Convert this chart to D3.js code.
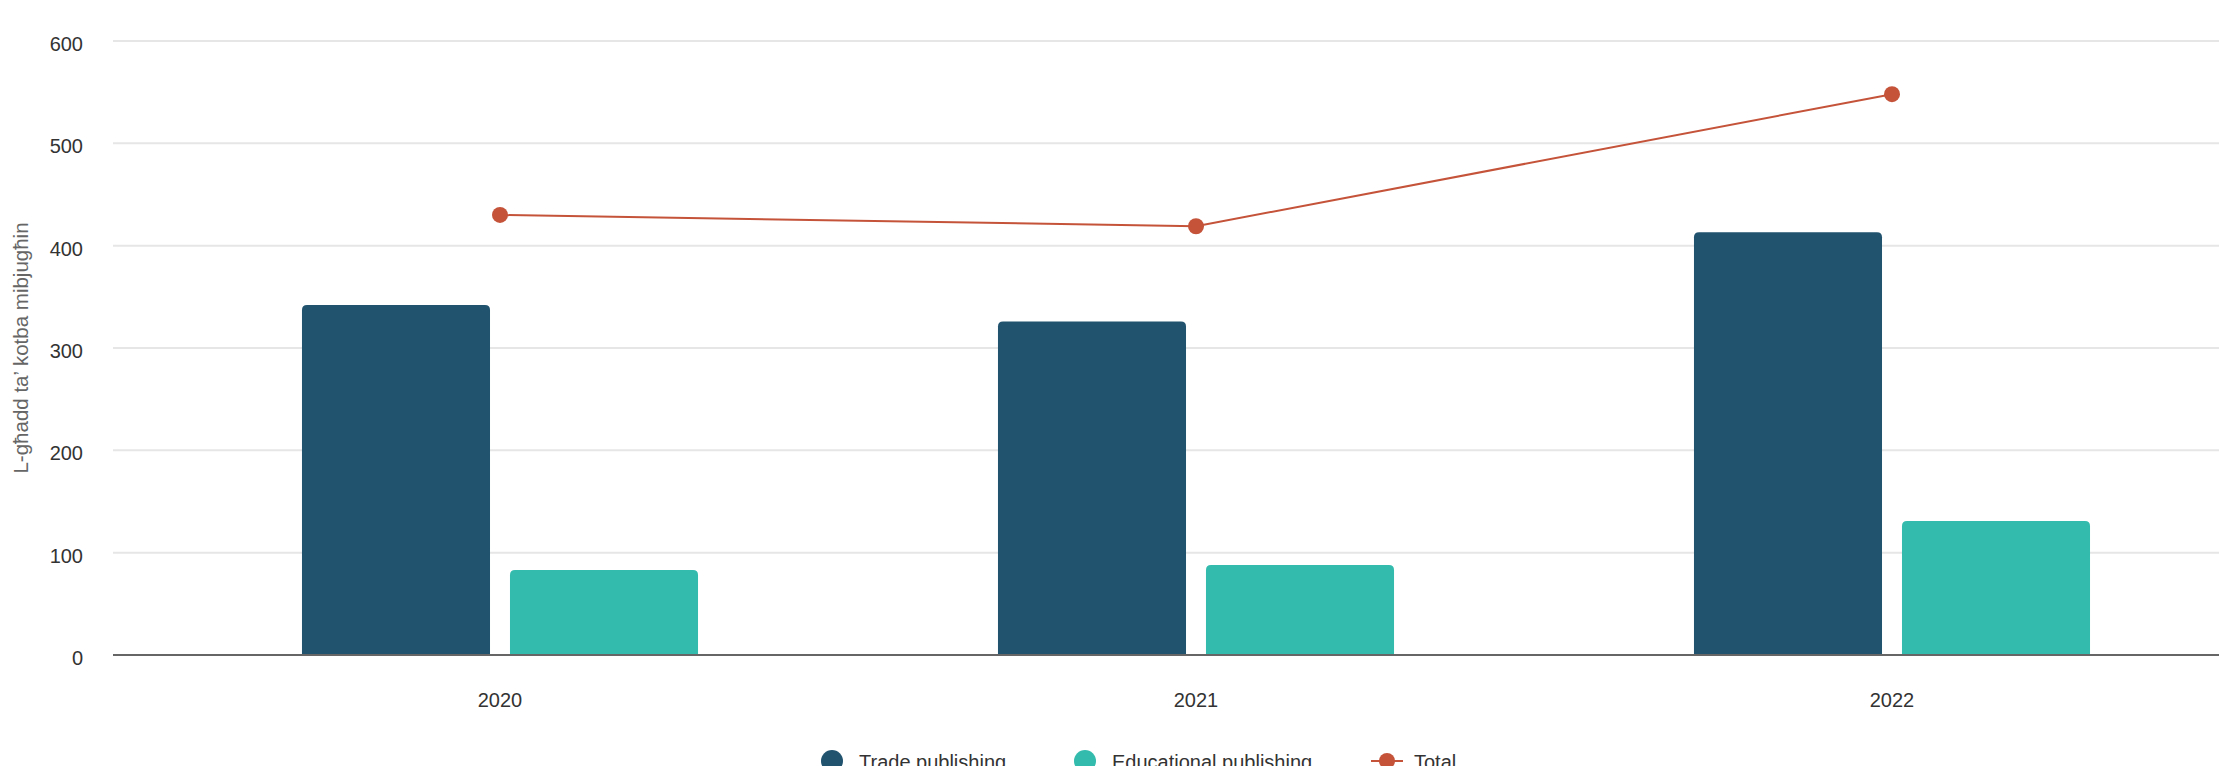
<!DOCTYPE html>
<html>
<head>
<meta charset="utf-8">
<script src="https://cdn.jsdelivr.net/npm/d3@7"></script>
<style>
  body { margin: 0; background: #fff; }
  text { font-family: "Liberation Sans", Arial, sans-serif; }
</style>
</head>
<body>
<div id="chart"></div>
<script>
// data
var years = ["2020", "2021", "2022"];
var seriesNames = ["Trade publishing", "Educational publishing"];
var trade = [342, 326, 413];
var educational = [83, 88, 131];
var total = [430, 419, 548];
var yTicks = [0, 100, 200, 300, 400, 500, 600];
var yTitle = "L-għadd ta’ kotba mibjugħin";
var colors = ["#21536f", "#33bbad"];
var totalColor = "#c4533a";

var width = 2219, height = 766;
var gridLeft = 113, plotRight = 2240, plotTop = 41, plotBottom = 655;

var svg = d3.select("#chart").append("svg")
    .attr("width", width).attr("height", height);

var x = d3.scaleBand().domain(years).range([152, plotRight]);
var x1 = d3.scaleBand().domain(seriesNames).range([0, x.bandwidth()])
    .paddingInner(0.096).paddingOuter(0.721);
var y = d3.scaleLinear().domain([0, 600]).range([plotBottom, plotTop]);

// gridlines
svg.append("g").selectAll("line")
    .data(yTicks.filter(function(d){ return d > 0; }))
    .enter().append("line")
    .attr("x1", gridLeft).attr("x2", plotRight)
    .attr("y1", function(d){ return y(d); }).attr("y2", function(d){ return y(d); })
    .style("stroke", "#e6e6e6").style("stroke-width", 2);

// y labels
svg.append("g").selectAll("text")
    .data(yTicks).enter().append("text")
    .attr("x", 83).attr("y", function(d){ return y(d) + 3; })
    .attr("text-anchor", "end").attr("dominant-baseline", "central")
    .style("font-size", "20px").style("fill", "#333")
    .text(function(d){ return d; });

svg.append("text")
    .attr("transform", "translate(20," + ((plotTop + plotBottom) / 2) + ") rotate(-90)")
    .attr("text-anchor", "middle").attr("dominant-baseline", "central")
    .style("font-size", "20.5px").style("fill", "#666")
    .text(yTitle);

// bars, rounded top corners
function barPath(x0, w, yTop, yBase, r) {
    return "M" + x0 + "," + yBase +
        "V" + (yTop + r) +
        "Q" + x0 + "," + yTop + " " + (x0 + r) + "," + yTop +
        "H" + (x0 + w - r) +
        "Q" + (x0 + w) + "," + yTop + " " + (x0 + w) + "," + (yTop + r) +
        "V" + yBase + "Z";
}

var barData = [];
years.forEach(function(yr, i){
    barData.push({year: yr, key: seriesNames[0], value: trade[i], color: colors[0]});
    barData.push({year: yr, key: seriesNames[1], value: educational[i], color: colors[1]});
});

svg.append("g").selectAll("path")
    .data(barData).enter().append("path")
    .attr("d", function(d){
        return barPath(x(d.year) + x1(d.key), x1.bandwidth(), y(d.value), y(0), 5);
    })
    .style("fill", function(d){ return d.color; });

// zero axis
svg.append("line")
    .attr("x1", gridLeft).attr("x2", plotRight)
    .attr("y1", y(0)).attr("y2", y(0))
    .style("stroke", "#666").style("stroke-width", 2);

// x labels
svg.append("g").selectAll("text")
    .data(years).enter().append("text")
    .attr("x", function(d){ return x(d) + x.bandwidth() / 2; })
    .attr("y", 700)
    .attr("text-anchor", "middle").attr("dominant-baseline", "central")
    .style("font-size", "20px").style("fill", "#333")
    .text(function(d){ return d; });

// total line
var line = d3.line()
    .x(function(d, i){ return x(years[i]) + x.bandwidth() / 2; })
    .y(function(d){ return y(d); });

svg.append("path")
    .datum(total)
    .attr("d", line)
    .style("fill", "none").style("stroke", totalColor).style("stroke-width", 2);

svg.append("g").selectAll("circle")
    .data(total).enter().append("circle")
    .attr("cx", function(d, i){ return x(years[i]) + x.bandwidth() / 2; })
    .attr("cy", function(d){ return y(d); })
    .attr("r", 8)
    .style("fill", totalColor);

// legend
var legendItems = [
    {name: seriesNames[0], color: colors[0], type: "circle", x: 832},
    {name: seriesNames[1], color: colors[1], type: "circle", x: 1085},
    {name: "Total", color: totalColor, type: "line", x: 1387}
];
var legend = svg.append("g").attr("transform", "translate(0,761)");
legendItems.forEach(function(it){
    var g = legend.append("g").attr("transform", "translate(" + it.x + ",0)");
    if (it.type == "line") {
        g.append("line").attr("x1", -16).attr("x2", 16).attr("y1", 0).attr("y2", 0)
            .style("stroke", it.color).style("stroke-width", 2);
        g.append("circle").attr("r", 8).style("fill", it.color);
    } else {
        g.append("circle").attr("r", 11).style("fill", it.color);
    }
    g.append("text").attr("x", 27).attr("y", 1)
        .attr("dominant-baseline", "central")
        .style("font-size", "20px").style("fill", "#333")
        .text(it.name);
});
</script>
</body>
</html>
